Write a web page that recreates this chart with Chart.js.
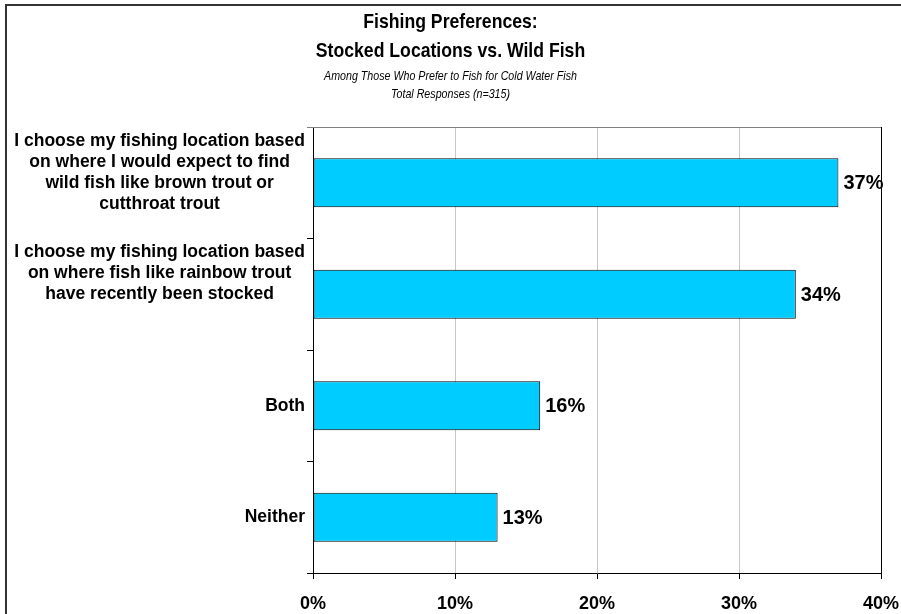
<!DOCTYPE html>
<html>
<head>
<meta charset="utf-8">
<script src="https://cdn.jsdelivr.net/npm/chart.js@4"></script>
<style>
  html, body { margin: 0; padding: 0; background: #fff; }
  #wrap { position: relative; width: 901px; height: 614px; }
</style>
</head>
<body>
<div id="wrap"><canvas id="chart" width="901" height="614"></canvas></div>
<script>
// categories (trailing blank lines keep the Excel-style label offsets)
const CATEGORIES = [
  ["I choose my fishing location based", "on where I would expect to find", "wild fish like brown trout or", "cutthroat trout", ""],
  ["I choose my fishing location based", "on where fish like rainbow trout", "have recently been stocked", "", ""],
  ["Both"],
  ["Neither"]
];
const VALUES = [37, 34, 16, 13];          // percent of responses
const X_TICKS = [0, 10, 20, 30, 40];
const TITLE = ["Fishing Preferences:", "Stocked Locations vs. Wild Fish"];
const SUBTITLE = ["Among Those Who Prefer to Fish for Cold Water Fish", "Total Responses (n=315)"];

const FONT = "'Liberation Sans', Arial, sans-serif";

// outer frame + plot box lines
const frame = {
  id: "frame",
  beforeDraw(chart) {
    const c = chart.ctx;
    c.save();
    c.strokeStyle = "#333";
    c.lineWidth = 2;
    c.beginPath();
    c.moveTo(6, 614); c.lineTo(6, 5); c.lineTo(901, 5);
    c.stroke();
    c.restore();
  },
  afterDraw(chart) {
    const a = chart.chartArea, c = chart.ctx;
    c.save();
    c.lineWidth = 1;
    c.strokeStyle = "#808080";
    c.beginPath(); c.moveTo(a.left - 6, a.top + 0.5); c.lineTo(a.right, a.top + 0.5); c.stroke();
    c.strokeStyle = "#000";
    c.beginPath(); c.moveTo(a.right + 0.5, a.top); c.lineTo(a.right + 0.5, a.bottom); c.stroke();
    c.restore();
  }
};

// title block in a narrow (Arial Narrow-like) face: draw squeezed horizontally
const narrowTitle = {
  id: "narrowTitle",
  afterDraw(chart) {
    const c = chart.ctx, cx = chart.width / 2;
    const put = (lines, font, squeeze, y0, lh) => {
      c.save();
      c.font = font;
      c.fillStyle = "#000";
      c.textAlign = "center";
      c.textBaseline = "middle";
      c.translate(cx, 0);
      c.scale(squeeze, 1);
      lines.forEach((l, i) => c.fillText(l, 0, y0 + i * lh));
      c.restore();
    };
    put(TITLE, "bold 21px " + FONT, 0.84, 22, 29);
    put(SUBTITLE, "italic 13px " + FONT, 0.82, 76, 18);
  }
};

// category labels: block right-aligned to the axis, lines centred within the block
const catLabels = {
  id: "catLabels",
  afterDraw(chart) {
    const y = chart.scales.y, c = chart.ctx, lh = 21;
    c.save();
    c.font = "bold 17.5px " + FONT;
    c.fillStyle = "#000";
    c.textBaseline = "middle";
    c.textAlign = "center";
    CATEGORIES.forEach((lines, i) => {
      const w = Math.max(...lines.map(l => c.measureText(l).width));
      const cx = chart.chartArea.left - 8 - w / 2;
      const cy = y.getPixelForTick(i);
      lines.forEach((l, j) => c.fillText(l, cx, cy + (j - (lines.length - 1) / 2) * lh));
    });
    c.restore();
  }
};

// value labels at the bar ends
const valueLabels = {
  id: "valueLabels",
  afterDatasetsDraw(chart) {
    const c = chart.ctx, meta = chart.getDatasetMeta(0);
    c.save();
    c.font = "bold 20px " + FONT;
    c.fillStyle = "#000";
    c.textBaseline = "middle";
    c.textAlign = "left";
    meta.data.forEach((bar, i) => c.fillText(VALUES[i] + "%", bar.x + 5, bar.y + 1));
    c.restore();
  }
};

new Chart(document.getElementById("chart"), {
  type: "bar",
  data: {
    labels: CATEGORIES,
    datasets: [{
      data: VALUES,
      backgroundColor: "#00ccff",
      borderColor: "#000",
      borderWidth: 1,
      borderSkipped: false,
      categoryPercentage: 0.88,
      barPercentage: 0.5
    }]
  },
  options: {
    indexAxis: "y",
    responsive: false,
    animation: false,
    layout: { padding: { left: 0, right: 20, top: 127, bottom: 0 } },
    plugins: {
      legend: { display: false },
      tooltip: { enabled: false },
      title: { display: false },
      subtitle: { display: false }
    },
    scales: {
      x: {
        min: 0, max: 40,
        afterBuildTicks: s => { s.ticks = X_TICKS.map(v => ({ value: v })); },
        afterFit: s => { s.height = 41; s.paddingLeft = 0; s.paddingRight = 0; },
        border: { display: true, color: "#000", width: 1 },
        grid: { color: "#c8c8c8", tickColor: "#000", tickLength: 6, drawTicks: true },
        ticks: {
          color: "#000", padding: 14,
          font: { family: FONT, size: 18, weight: "bold" },
          callback: v => v + "%"
        }
      },
      y: {
        afterFit: s => { s.width = 313; s.paddingTop = 0; s.paddingBottom = 0; },
        border: { display: true, color: "#000", width: 1 },
        grid: { drawOnChartArea: false, tickColor: "#000", tickLength: 6, offset: true },
        ticks: { display: false }
      }
    }
  },
  plugins: [frame, narrowTitle, catLabels, valueLabels]
});
</script>
</body>
</html>
